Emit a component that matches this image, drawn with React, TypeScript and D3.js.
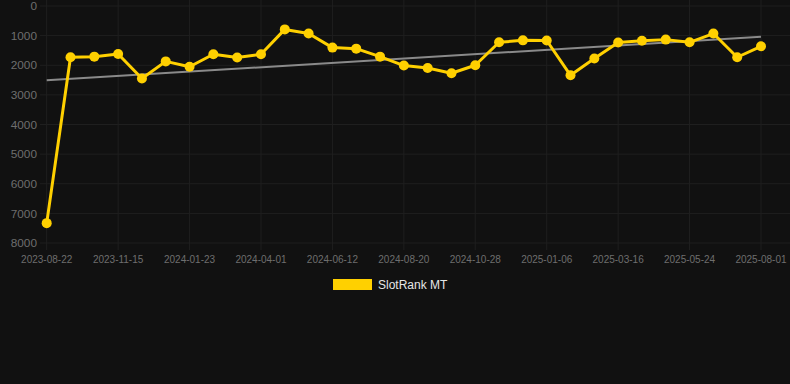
import React from "react";
import * as d3 from "d3";

const dates = [
  "2023-08-22", "2023-09-19", "2023-10-17", "2023-11-15", "2023-12-08", "2023-12-31",
  "2024-01-23", "2024-02-15", "2024-03-09", "2024-04-01", "2024-04-25", "2024-05-19",
  "2024-06-12", "2024-07-05", "2024-07-28", "2024-08-20", "2024-09-12", "2024-10-05",
  "2024-10-28", "2024-11-20", "2024-12-14", "2025-01-06", "2025-01-29", "2025-02-21",
  "2025-03-16", "2025-04-08", "2025-05-01", "2025-05-24", "2025-06-16", "2025-07-09",
  "2025-08-01",
];

const rankValues = [
  7330, 1730, 1710, 1620, 2450, 1870, 2050, 1630, 1740, 1630, 790, 930,
  1405, 1440, 1710, 2010, 2090, 2270, 2000, 1225, 1160, 1165, 2340, 1775,
  1235, 1170, 1135, 1225, 930, 1730, 1360,
];

const trendValues = [2510, 1035];

const yTicks = [0, 1000, 2000, 3000, 4000, 5000, 6000, 7000, 8000];

const seriesName = "SlotRank MT";

export default function App() {
  const W = 790;
  const H = 384;
  const left = 46.7;
  const right = 761;
  const top = 6;
  const bottom = 243;

  const x = d3.scalePoint<string>().domain(dates).range([left, right]);
  const y = d3.scaleLinear().domain([0, 8000]).range([top, bottom]);

  const line = d3
    .line<number>()
    .x((_, i) => x(dates[i]) as number)
    .y((d) => y(d));

  const labeled = dates.filter((_, i) => i % 3 === 0);
  const gridColor = "#1f1f1f";
  const textColor = "#6e6e6e";

  return (
    <div style={{ position: "fixed", left: 0, top: 0, width: W, height: H, background: "#111111" }}>
      <svg width={W} height={H} style={{ display: "block" }}>
        <rect x={0} y={0} width={W} height={H} fill="#111111" />
        {yTicks.map((t) => (
          <g key={"y" + t}>
            <line x1={40} x2={W} y1={y(t)} y2={y(t)} stroke={gridColor} strokeWidth={1} />
            <text
              x={37}
              y={y(t)}
              dy="0.35em"
              textAnchor="end"
              fill={textColor}
              fontFamily="Liberation Sans, Arial, sans-serif"
              fontSize={11.8}
            >
              {t}
            </text>
          </g>
        ))}
        {labeled.map((d) => (
          <g key={"x" + d}>
            <line x1={x(d)} x2={x(d)} y1={0} y2={250} stroke={gridColor} strokeWidth={1} />
            <text
              x={x(d)}
              y={263}
              textAnchor="middle"
              fill={textColor}
              fontFamily="Liberation Sans, Arial, sans-serif"
              fontSize={10}
            >
              {d}
            </text>
          </g>
        ))}
        <line
          x1={x(dates[0])}
          x2={x(dates[dates.length - 1])}
          y1={y(trendValues[0])}
          y2={y(trendValues[1])}
          stroke="#8a8a8a"
          strokeWidth={2}
        />
        <path d={line(rankValues) || ""} fill="none" stroke="#FFD000" strokeWidth={3} strokeLinejoin="round" />
        {rankValues.map((v, i) => (
          <circle key={"p" + i} cx={x(dates[i])} cy={y(v)} r={5} fill="#FFD000" />
        ))}
        <rect x={333} y={279} width={39} height={11} fill="#FFD000" />
        <text
          x={378}
          y={289}
          fill="#e6e6e6"
          fontFamily="Liberation Sans, Arial, sans-serif"
          fontSize={12}
        >
          {seriesName}
        </text>
      </svg>
    </div>
  );
}
